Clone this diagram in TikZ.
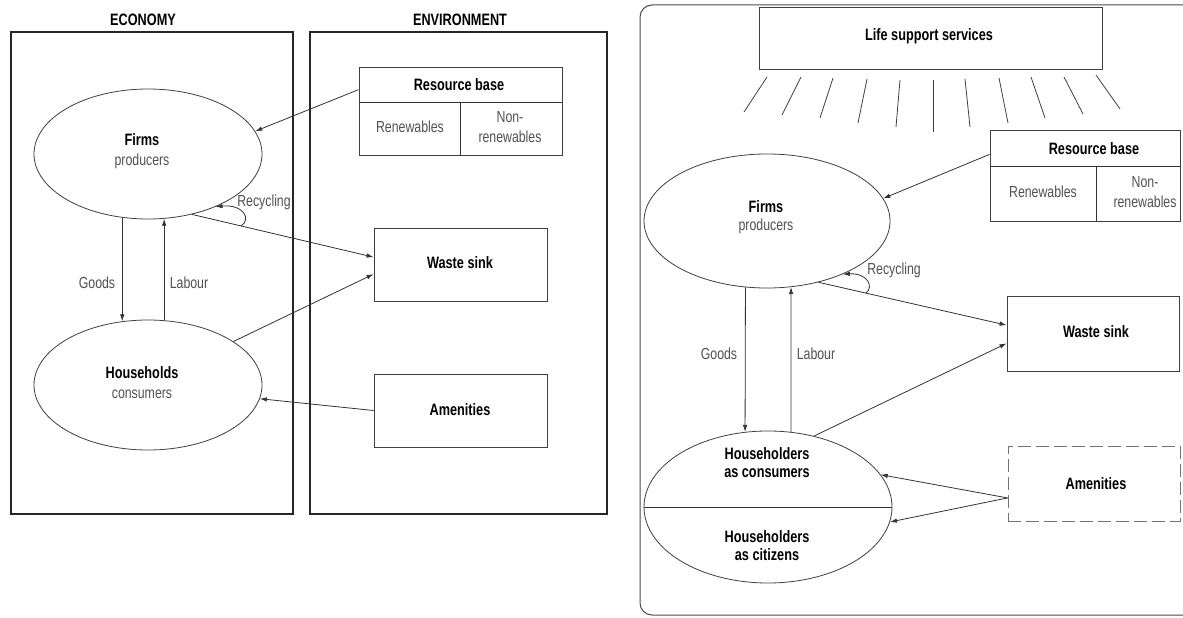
\documentclass[tikz,border=0pt]{standalone}
\usepackage{fontspec}
\setmainfont{Liberation Sans}[FakeStretch=0.77]
\usetikzlibrary{shapes.geometric,calc,arrows.meta}

\begin{document}
\begin{tikzpicture}[x=1pt,y=-1pt,
  frame/.style={draw=black!85,line width=1.6pt,inner sep=0pt},
  bx/.style={draw=black!75,line width=0.9pt,inner sep=0pt},
  dbx/.style={draw=black!55,line width=0.9pt,inner sep=0pt,dash pattern=on 13pt off 5pt},
  ell/.style={ellipse,draw=black!75,line width=0.8pt,inner sep=0pt},
  con/.style={draw=black!80,line width=0.8pt},
  arr/.style={con,-{Latex[length=7pt,width=4.5pt]}},
  ray/.style={draw=black!75,line width=0.8pt},
  ttl/.style={font=\fontsize{16.5}{18}\selectfont\bfseries},
  lbl/.style={font=\fontsize{16.5}{18}\selectfont\bfseries,align=center},
  sub/.style={font=\fontsize{16}{20}\selectfont,text=black!68,align=center},
]
\useasboundingbox (0,0) rectangle (1183,618);
\clip (0,0) rectangle (1183,618);
\fill[white] (0,0) rectangle (1183,618);

% ---------- left diagram: economy inside its environment ----------
\node[ttl] (econT) at (143,20) {ECONOMY};
\node[ttl] (envT) at (460,20) {ENVIRONMENT};
\node[frame,minimum width=282,minimum height=482] (econ) at (152,273) {};
\node[frame,minimum width=297,minimum height=482] (env) at (458.5,273) {};

% resource base with its two parts
\node[bx,minimum width=203,minimum height=88] (rbL) at (460.5,111) {};
\draw[con] ($(rbL.north west)!0.4!(rbL.south west)$) -- ($(rbL.north east)!0.4!(rbL.south east)$);
\draw[con] (rbL.south) -- ($(rbL.north)!0.4!(rbL.south)$);
\node[lbl] (rbLt) at (459,85) {Resource base};
\node[sub] (rbLr) at (410,127) {Renewables};
\node[sub] (rbLn) at (510,127) {Non-\\renewables};

\node[bx,minimum width=173,minimum height=73] (wsL) at (460.5,264.5) {};
\node[lbl] (wsLt) at (460,263) {Waste sink};
\node[bx,minimum width=173,minimum height=73] (amL) at (460.5,410.5) {};
\node[lbl] (amLt) at (460,410) {Amenities};

\node[ell,minimum width=228,minimum height=130] (fiL) at (148,154) {};
\node[lbl] (fiLt) at (142,140) {Firms};
\node[sub] (fiLs) at (142,161) {producers};
\node[ell,minimum width=228,minimum height=130] (hhL) at (148,385) {};
\node[lbl] (hhLt) at (142,373) {Households};
\node[sub] (hhLs) at (142,394) {consumers};

\draw[arr] ($(rbL.north west)!0.26!(rbL.south west)$) -- (fiL.12.8);
\draw[arr] (fiL.-54.4) -- ($(wsL.north west)!0.4!(wsL.south west)$);
\draw[arr] (hhL.27.9) -- ($(wsL.north west)!0.63!(wsL.south west)$);
\draw[arr] (amL.west) -- (hhL.-7.6);
\draw[arr] (fiL.-112.3) -- (hhL.112.3);
\draw[arr] (hhL.76) -- (fiL.-76);
\coordinate (recL) at (241,226);
\draw[arr] (recL) .. controls (252,219) and (243,204) .. (fiL.-38);
\node[sub] (recLt) at (264,202) {Recycling};
\node[sub] (goodsL) at (97,283) {Goods};
\node[sub] (labL) at (189,283) {Labour};

% ---------- right diagram: with life support services ----------
\draw[draw=black!70,line width=1pt,rounded corners=12pt] (640,5) rectangle (1215,615);

\node[bx,minimum width=343,minimum height=62] (lss) at (930.5,38) {};
\node[lbl] (lssT) at (929,36) {Life support services};
\foreach \xa/\ya/\xb/\yb in {767/77/744/112, 801/77/782/115, 833/78/820/118,
    867/79/858/123, 900/80/896/127, 933/80/933/132, 965/79/970/127,
    999/78/1008/123, 1031/77/1045/118, 1064/77/1083/114, 1096/75/1120/109}
  \draw[ray] (\xa,\ya) -- (\xb,\yb);

\node[bx,minimum width=190,minimum height=91] (rbR) at (1085,175.5) {};
\coordinate (rbRdiv) at ($(rbR.south west)!0.56!(rbR.south east)$);
\draw[con] ($(rbR.north west)!0.4!(rbR.south west)$) -- ($(rbR.north east)!0.4!(rbR.south east)$);
\draw[con] (rbRdiv) -- ++(0,-55);
\node[lbl] (rbRt) at (1094,149) {Resource base};
\node[sub] (rbRr) at (1043,192) {Renewables};
\node[sub] (rbRn) at (1145,192) {Non-\\renewables};

\node[bx,minimum width=172,minimum height=75] (wsR) at (1093,333.5) {};
\node[lbl] (wsRt) at (1096,332) {Waste sink};
\node[dbx,minimum width=172,minimum height=75] (amR) at (1094,483.5) {};
\node[lbl] (amRt) at (1096,484) {Amenities};

\node[ell,minimum width=246,minimum height=134] (fiR) at (767,221) {};
\node[lbl] (fiRt) at (766,207) {Firms};
\node[sub] (fiRs) at (766,226) {producers};
\node[ell,minimum width=248,minimum height=152] (hhR) at (768,507) {};
\draw[con] (hhR.west) -- (hhR.east);
\node[lbl] (hhRc) at (767,463) {Householders\\as consumers};
\node[lbl] (hhRz) at (767,546) {Householders\\as citizens};

\draw[arr] ($(rbR.north west)!0.27!(rbR.south west)$) -- (fiR.11.7);
\draw[arr] (fiR.-50) -- ($(wsR.north west)!0.39!(wsR.south west)$);
\draw[arr] (hhR.57.1) -- ($(wsR.north west)!0.63!(wsR.south west)$);
\coordinate (amRsrc) at ($(amR.north west)!0.69!(amR.south west)$);
\draw[arr] (amRsrc) -- (hhR.16);
\draw[arr] (amRsrc) -- (hhR.-7);
\draw[arr] (fiR.-108.5) -- (hhR.107.1);
\draw[arr] (hhR.73.6) -- (fiR.-70.7);
\coordinate (recR) at (866,293);
\draw[arr] (recR) .. controls (874,287) and (868,273) .. (fiR.-35.8);
\node[sub] (recRt) at (894,270) {Recycling};
\node[sub] (goodsR) at (719,354) {Goods};
\node[sub] (labR) at (816,354) {Labour};
\end{tikzpicture}
\end{document}
